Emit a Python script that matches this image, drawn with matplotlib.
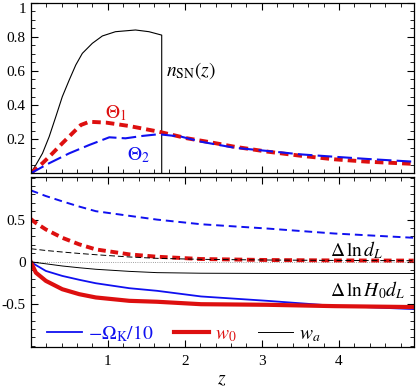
import matplotlib.pyplot as plt
from matplotlib.ticker import MultipleLocator

plt.rcParams['font.family'] = ['Liberation Serif', 'DejaVu Serif']
plt.rcParams['mathtext.fontset'] = 'stix'

# top panel: supernova distribution and weights
z_nsn = [0, 0.067, 0.153, 0.24, 0.326, 0.41, 0.5, 0.585, 0.67, 0.80, 0.93, 1.10, 1.36, 1.535, 1.70, 1.70]
n_sn = [0, 0.049, 0.117, 0.215, 0.332, 0.449, 0.547, 0.635, 0.703, 0.762, 0.805, 0.83, 0.84, 0.83, 0.81, 0]

z_th1 = [0, 0.153, 0.24, 0.41, 0.54, 0.65, 0.76, 0.98, 1.28, 1.66, 2.03, 2.33, 2.64, 3.07, 3.50, 3.94, 4.37, 4.97]
theta1 = [0, 0.059, 0.097, 0.176, 0.234, 0.283, 0.302, 0.297, 0.277, 0.244, 0.205, 0.182, 0.156, 0.127, 0.103, 0.082, 0.068, 0.055]

z_th2 = [0, 0.24, 0.5, 0.76, 1.02, 1.23, 1.45, 1.66, 1.95, 2.21, 2.64, 3.07, 3.50, 3.94, 4.37, 4.97]
theta2 = [0, 0.059, 0.117, 0.166, 0.211, 0.205, 0.219, 0.229, 0.215, 0.185, 0.150, 0.131, 0.111, 0.097, 0.084, 0.068]

# bottom panel: derivatives of ln d_L (dashed) and ln H0 d_L (solid)
z_b = [0, 0.067, 0.197, 0.41, 0.63, 0.845, 1.28, 1.64, 2.21, 3.07, 3.94, 4.97]
dl_ok = [0.848, 0.825, 0.78, 0.717, 0.655, 0.60, 0.545, 0.50, 0.445, 0.394, 0.335, 0.284]
dl_w0 = [0.508, 0.46, 0.383, 0.284, 0.206, 0.146, 0.087, 0.059, 0.032, 0.02, 0.015, 0.013]
dl_wa = [0.154, 0.147, 0.133, 0.115, 0.098, 0.083, 0.056, 0.04, 0.028, 0.02, 0.015, 0.012]
h_ok = [0, -0.04, -0.11, -0.169, -0.215, -0.256, -0.315, -0.346, -0.413, -0.465, -0.524, -0.563]
h_w0 = [0, -0.13, -0.228, -0.327, -0.386, -0.425, -0.465, -0.476, -0.505, -0.512, -0.528, -0.539]
h_wa = [0, -0.01, -0.025, -0.051, -0.072, -0.09, -0.115, -0.13, -0.137, -0.14, -0.14, -0.14]

BLUE = '#1010f0'
RED = '#dd0f0f'

fig = plt.figure(figsize=(4.16, 3.91), dpi=100)
ax1 = fig.add_axes([0.0738, 0.5568, 0.9207, 0.4363])
ax2 = fig.add_axes([0.0738, 0.1133, 0.9207, 0.4348])

ax1.plot(z_nsn, n_sn, color='black', lw=0.8)
ax1.plot(z_th1, theta1, color=RED, lw=2.8, dashes=(2.2, 1.3))
ax1.plot(z_th2, theta2, color=BLUE, lw=1.5, dashes=(7, 2.5))
ax1.text(1.755, 0.60, r'$n_{\rm SN}(z)$', fontsize=14, va='center', ha='left')
ax1.text(1.11, 0.353, r'$\Theta_1$', fontsize=14, color=RED, va='center', ha='center')
ax1.text(1.40, 0.107, r'$\Theta_2$', fontsize=14, color=BLUE, va='center', ha='center')
ax1.set_ylim(0, 1)
ax1.set_yticks([0.2, 0.4, 0.6, 0.8, 1.0])
ax1.set_yticklabels(['0.2', '0.4', '0.6', '0.8', '1'])
ax1.get_yticklabels()[-1].set_va('top')
ax1.yaxis.set_minor_locator(MultipleLocator(0.05))
ax1.tick_params(labelbottom=False)

ax2.axhline(0, color='gray', lw=0.6, ls=':')
ax2.plot(z_b, dl_ok, color=BLUE, lw=1.4, dashes=(4, 2.5))
ax2.plot(z_b, dl_w0, color=RED, lw=2.8, dashes=(2, 1.2))
ax2.plot(z_b, dl_wa, color='black', lw=0.7, dashes=(6, 3))
ax2.plot(z_b, h_ok, color=BLUE, lw=1.3, label=r'$-\Omega_{\rm K}/10$')
ax2.plot(z_b, h_w0, color=RED, lw=3.0, label=r'$w_0$')
ax2.plot(z_b, h_wa, color='black', lw=0.7, label=r'$w_a$')
ax2.text(3.89, 0.138, r'$\Delta\,\ln d_L$', fontsize=14, va='center', ha='left')
ax2.text(3.89, -0.335, r'$\Delta\,\ln H_0 d_L$', fontsize=14, va='center', ha='left')
ax2.set_ylim(-1.01, 1.01)
ax2.set_yticks([-0.5, 0, 0.5])
ax2.set_yticklabels(['-0.5', '0', '0.5'])
ax2.yaxis.set_minor_locator(MultipleLocator(0.1))
ax2.set_xlabel(r'$z$', fontsize=14, labelpad=2)
ax2.legend(loc='center left', bbox_to_anchor=(0.042, 0.079), ncol=3, frameon=False,
           fontsize=14, handlelength=1.8, columnspacing=1.1, handletextpad=0.3,
           borderpad=0, borderaxespad=0, labelcolor='linecolor')

for ax in (ax1, ax2):
    ax.set_xlim(0, 4.97)
    ax.set_xticks([1, 2, 3, 4])
    ax.xaxis.set_minor_locator(MultipleLocator(0.2))
    ax.tick_params(which='both', direction='in', top=True, right=True, labelsize=11)
    ax.tick_params(which='major', length=5, width=0.8)
    ax.tick_params(which='minor', length=3, width=0.6)
    ax.tick_params(axis='x', which='major', pad=6)
    for s in ax.spines.values():
        s.set_linewidth(0.9)

fig.savefig('out.png', dpi=100)
